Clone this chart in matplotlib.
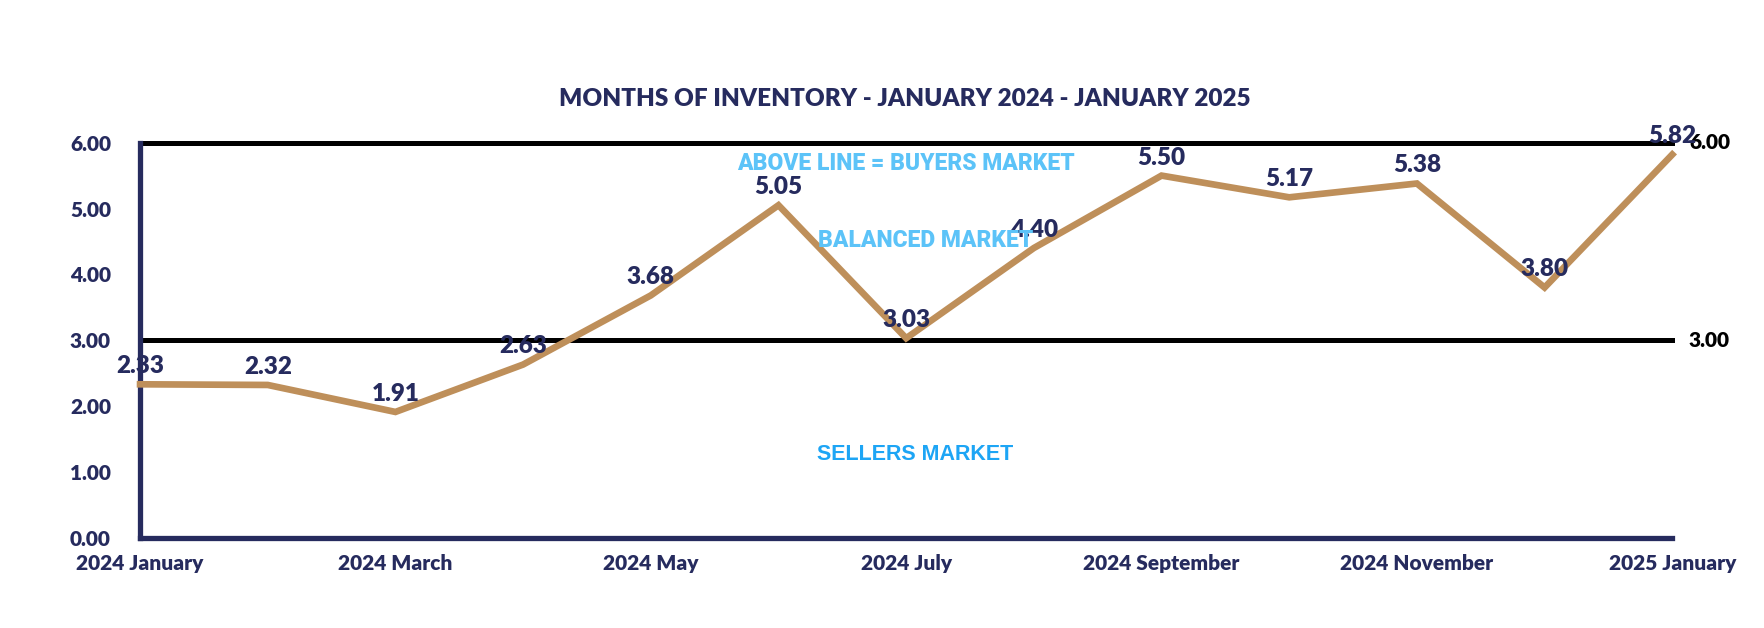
import matplotlib
matplotlib.use("Agg")
import matplotlib.pyplot as plt

# months of inventory, Jan 2024 - Jan 2025
months = ["2024 January", "2024 February", "2024 March", "2024 April",
          "2024 May", "2024 June", "2024 July", "2024 August",
          "2024 September", "2024 October", "2024 November", "2024 December",
          "2025 January"]
inventory = [2.33, 2.32, 1.91, 2.63, 3.68, 5.05, 3.03, 4.40, 5.50, 5.17, 5.38, 3.80, 5.82]
thresholds = [6.0, 3.0]
yticks = [0, 1, 2, 3, 4, 5, 6]

NAVY = "#262B5E"
TAN = "#BE8F5A"
FONT = ["Lato", "DejaVu Sans"]
NARROW = ["Roboto", "DejaVu Sans"]
W = "heavy"

fig = plt.figure(figsize=(17.64, 6.28), dpi=100)
ax = fig.add_axes([0.0794, 0.1438, 0.948 - 0.0794, 0.7728 - 0.1438])

x = list(range(len(months)))

for t in thresholds:
    ax.axhline(t, color="black", lw=3.6, zorder=2, clip_on=False)
    ax.annotate("{:.2f}".format(t), xy=(1, t), xycoords=("axes fraction", "data"),
                xytext=(12, 0), textcoords="offset points", ha="left", va="center",
                fontsize=15, fontweight=W, color="black", family=FONT)

ax.plot(x, inventory, color=TAN, lw=4.8, zorder=3, clip_on=False, solid_joinstyle="miter")

for xi, v in zip(x, inventory):
    ax.annotate("{:.2f}".format(v), xy=(xi, v), xytext=(0, 13), textcoords="offset points",
                ha="center", va="center", fontsize=17.5, fontweight=W, color=NAVY,
                family=FONT, zorder=4, annotation_clip=False)

ax.text(6.0, 5.68, "ABOVE LINE = BUYERS MARKET", ha="center", va="center",
        fontsize=16.5, fontweight="heavy", color="#5CC3F8", family=NARROW, zorder=5)
ax.text(6.15, 4.51, "BALANCED MARKET", ha="center", va="center",
        fontsize=16.5, fontweight="heavy", color="#5CC3F8", family=NARROW, zorder=5)
ax.text(6.07, 1.27, "SELLERS MARKET", ha="center", va="center",
        fontsize=15.5, fontweight="bold", color="#1DA5F5",
        family=["Liberation Sans", "DejaVu Sans"], zorder=5)

ax.set_xlim(0, len(months) - 1)
ax.set_ylim(0, 6)
ax.set_yticks(yticks)
ax.set_yticklabels(["{:.2f}".format(t) for t in yticks])
ax.set_xticks(x[::2])
ax.set_xticklabels(months[::2])
ax.tick_params(axis="both", length=0, labelcolor=NAVY)
ax.tick_params(axis="y", pad=21, labelsize=15)
ax.tick_params(axis="x", pad=12, labelsize=15)
for lbl in ax.get_xticklabels() + ax.get_yticklabels():
    lbl.set_fontweight(W)
    lbl.set_family(FONT)

for side in ["top", "right"]:
    ax.spines[side].set_visible(False)
for side in ["left", "bottom"]:
    ax.spines[side].set_color(NAVY)
    ax.spines[side].set_linewidth(3.8)
    ax.spines[side].set_capstyle("projecting")

fig.text(0.513, 0.842, "MONTHS OF INVENTORY - JANUARY 2024 - JANUARY 2025",
         ha="center", va="center", fontsize=17.5, fontweight=W, color=NAVY, family=FONT)

fig.savefig("out.png", dpi=100, facecolor="white")
